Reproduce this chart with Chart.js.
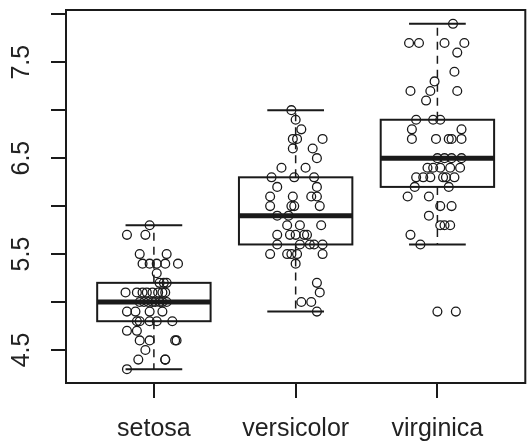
<!DOCTYPE html>
<html><head><meta charset="utf-8">
<script src="https://cdn.jsdelivr.net/npm/chart.js@4"></script>
<style>html,body{margin:0;padding:0;background:#fff}</style>
</head><body><canvas id="c" width="531" height="443"></canvas>
<script>
// ---- data ----
const categories = ['setosa', 'versicolor', 'virginica'];
const q1 = [4.8, 5.6, 6.2];
const medians = [5.0, 5.9, 6.5];
const q3 = [5.2, 6.3, 6.9];
const whiskerLow = [4.3, 4.9, 5.6];
const whiskerHigh = [5.8, 7.0, 7.9];
const outlierGroups = [3];
const outlierValues = [4.9];
const yTicks = [4.5, 5.0, 5.5, 6.0, 6.5, 7.0, 7.5, 8.0];
const yLabelTicks = [4.5, 5.5, 6.5, 7.5];

const setosaValues = [5.8, 5.7, 5.7, 5.5, 5.5, 5.4, 5.4, 5.4, 5.4, 5.4, 5.3, 5.2, 5.2, 5.2,
  5.1, 5.1, 5.1, 5.1, 5.1, 5.1, 5.1, 5.1, 5.0, 5.0, 5.0, 5.0, 5.0, 5.0, 5.0, 5.0,
  4.9, 4.9, 4.9, 4.9, 4.8, 4.8, 4.8, 4.8, 4.8, 4.7, 4.7, 4.6, 4.6, 4.6, 4.6, 4.5,
  4.4, 4.4, 4.4, 4.3];
const setosaJitter = [-0.03, -0.19, -0.06, -0.10, 0.09, -0.08, -0.03, 0.02, 0.08, 0.17, 0.02, 0.04, 0.07, 0.09,
  -0.20, -0.12, -0.08, -0.05, -0.01, 0.03, 0.06, 0.08, -0.10, -0.07, -0.04, -0.01, 0.01, 0.04, 0.06, 0.09,
  -0.19, -0.13, -0.03, 0.06, -0.12, -0.10, -0.03, 0.02, 0.13, -0.19, -0.12, -0.10, -0.03, 0.15, 0.16, -0.06,
  -0.11, 0.08, 0.08, -0.19];

const versicolorValues = [7.0, 6.9, 6.8, 6.7, 6.7, 6.7, 6.6, 6.6, 6.5, 6.4, 6.4, 6.3, 6.3, 6.3,
  6.2, 6.2, 6.1, 6.1, 6.1, 6.1, 6.0, 6.0, 6.0, 6.0, 5.9, 5.9, 5.8, 5.8, 5.8,
  5.7, 5.7, 5.7, 5.7, 5.7, 5.6, 5.6, 5.6, 5.6, 5.6, 5.5, 5.5, 5.5, 5.5, 5.5,
  5.4, 5.2, 5.1, 5.0, 5.0, 4.9];
const versicolorJitter = [-0.03, 0.00, 0.04, -0.02, 0.01, 0.19, -0.02, 0.12, 0.15, -0.10, 0.07, -0.17, -0.01, 0.13,
  -0.13, 0.15, -0.18, -0.02, 0.11, 0.15, -0.18, -0.03, -0.01, 0.17, -0.13, -0.05, -0.06, 0.03, 0.18,
  -0.13, -0.04, 0.00, 0.06, 0.08, -0.13, 0.03, 0.10, 0.13, 0.19, -0.18, -0.06, -0.03, 0.01, 0.19,
  0.00, 0.15, 0.17, 0.04, 0.11, 0.15];

const virginicaValues = [7.9, 7.7, 7.7, 7.7, 7.7, 7.6, 7.4, 7.3, 7.2, 7.2, 7.2, 7.1, 6.9, 6.9, 6.9,
  6.8, 6.8, 6.7, 6.7, 6.7, 6.7, 6.7, 6.5, 6.5, 6.5, 6.5, 6.4, 6.4, 6.4, 6.4, 6.4,
  6.3, 6.3, 6.3, 6.3, 6.3, 6.3, 6.2, 6.2, 6.1, 6.1, 6.0, 6.0, 5.9, 5.8, 5.8, 5.8, 5.7, 5.6, 4.9];
const virginicaJitter = [0.11, -0.20, -0.13, 0.05, 0.19, 0.14, 0.12, -0.02, -0.19, -0.05, 0.14, -0.08, -0.15, -0.03, 0.02,
  -0.18, 0.17, -0.18, -0.01, 0.08, 0.10, 0.17, 0.00, 0.05, 0.10, 0.17, -0.07, -0.03, 0.02, 0.09, 0.16,
  -0.15, -0.10, -0.05, 0.04, 0.06, 0.12, -0.16, 0.08, -0.21, -0.06, 0.02, 0.10, -0.06, 0.02, 0.05, 0.09, -0.19, -0.12, 0.13];

// ---- build ----
const INK = '#1a1a1a';
const BOX_WIDTH = 0.8;
function pts(vals, jit, g) { return vals.map((v, i) => ({ x: g + jit[i], y: v })); }
const pointStyle = { type: 'scatter', showLine: false, pointStyle: 'circle', pointRadius: 4.4, pointBorderWidth: 1.3,
  pointBorderColor: INK, pointBackgroundColor: 'rgba(0,0,0,0)' };

const boxPlugin = {
  id: 'boxes',
  beforeDatasetsDraw(chart) {
    const { ctx, scales: { x, y } } = chart;
    ctx.save();
    ctx.strokeStyle = INK;
    categories.forEach((c, i) => {
      const g = i + 1;
      const cx = x.getPixelForValue(g);
      const l = x.getPixelForValue(g - BOX_WIDTH / 2), r = x.getPixelForValue(g + BOX_WIDTH / 2);
      const cl = x.getPixelForValue(g - BOX_WIDTH / 4), cr = x.getPixelForValue(g + BOX_WIDTH / 4);
      const yq1 = y.getPixelForValue(q1[i]), yq3 = y.getPixelForValue(q3[i]);
      const ym = y.getPixelForValue(medians[i]);
      const ylo = y.getPixelForValue(whiskerLow[i]), yhi = y.getPixelForValue(whiskerHigh[i]);
      ctx.lineWidth = 1.5;
      ctx.setLineDash([8, 6]);
      ctx.beginPath();
      ctx.moveTo(cx, yq3); ctx.lineTo(cx, yhi);
      ctx.moveTo(cx, yq1); ctx.lineTo(cx, ylo);
      ctx.stroke();
      ctx.setLineDash([]);
      ctx.lineWidth = 2;
      ctx.beginPath();
      ctx.moveTo(cl, yhi); ctx.lineTo(cr, yhi);
      ctx.moveTo(cl, ylo); ctx.lineTo(cr, ylo);
      ctx.stroke();
      ctx.fillStyle = '#fff';
      ctx.fillRect(l, yq3, r - l, yq1 - yq3);
      ctx.lineWidth = 2;
      ctx.strokeRect(l, yq3, r - l, yq1 - yq3);
      ctx.lineWidth = 5;
      ctx.beginPath();
      ctx.moveTo(l, ym); ctx.lineTo(r, ym);
      ctx.stroke();
    });
    ctx.restore();
  },
  afterDraw(chart) {
    const { ctx, chartArea: a } = chart;
    ctx.save();
    ctx.strokeStyle = INK;
    ctx.lineWidth = 2;
    ctx.strokeRect(a.left, a.top, a.right - a.left, a.bottom - a.top);
    ctx.restore();
  }
};

Chart.defaults.font.family = "'Liberation Sans', Arial, sans-serif";
Chart.defaults.font.size = 25;
Chart.defaults.color = '#222';

new Chart(document.getElementById('c'), {
  data: {
    datasets: [
      Object.assign({ data: pts(setosaValues, setosaJitter, 1) }, pointStyle),
      Object.assign({ data: pts(versicolorValues, versicolorJitter, 2) }, pointStyle),
      Object.assign({ data: pts(virginicaValues, virginicaJitter, 3) }, pointStyle),
      Object.assign({ data: outlierValues.map((v, i) => ({ x: outlierGroups[i], y: v })) }, pointStyle)
    ]
  },
  options: {
    responsive: false,
    animation: false,
    layout: { padding: { top: 10, right: 3, left: 0, bottom: 0 } },
    plugins: { legend: { display: false }, tooltip: { enabled: false } },
    scales: {
      x: {
        type: 'linear', min: 0.38, max: 3.62,
        afterBuildTicks: s => { s.ticks = categories.map((c, i) => ({ value: i + 1 })); },
        afterFit: s => { s.height = 60; s.paddingLeft = 0; s.paddingRight = 0; },
        grid: { drawOnChartArea: false, drawTicks: true, tickLength: 15, color: INK, lineWidth: 2 },
        border: { display: false },
        ticks: { callback: v => categories[v - 1], padding: 16, color: '#222', maxRotation: 0, minRotation: 0, autoSkip: false }
      },
      y: {
        type: 'linear', min: 4.156, max: 8.044,
        afterBuildTicks: s => { s.ticks = yTicks.map(v => ({ value: v })); },
        afterFit: s => { s.width = 66; s.paddingTop = 0; s.paddingBottom = 0; },
        grid: { drawOnChartArea: false, drawTicks: true, tickLength: 15, color: INK, lineWidth: 2 },
        border: { display: false },
        ticks: { callback: v => yLabelTicks.includes(v) ? v.toFixed(1) : '', minRotation: 90, maxRotation: 90,
          crossAlign: 'center', padding: 12, color: '#222', autoSkip: false }
      }
    }
  },
  plugins: [boxPlugin]
});
</script></body></html>
